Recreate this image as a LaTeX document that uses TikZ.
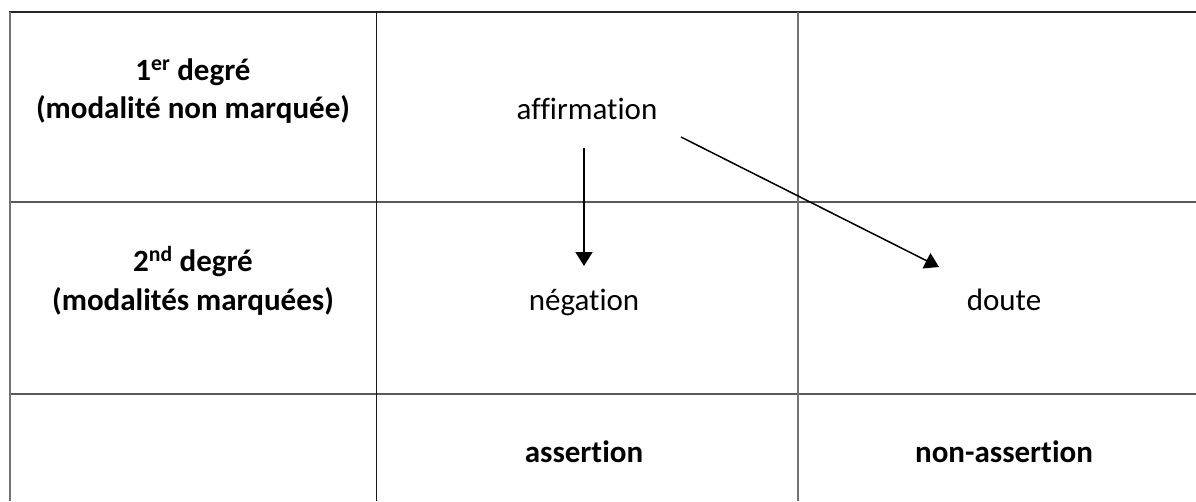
\documentclass[tikz,border=0pt]{standalone}
\usepackage{fontspec}
\setmainfont[Ligatures={NoCommon}]{Carlito}
\usetikzlibrary{arrows.meta}
\begin{document}
\begin{tikzpicture}[x=1pt,y=-1pt,
  txt/.style={font=\fontsize{31}{37}\selectfont, inner sep=0pt, anchor=base},
  hd/.style={font=\fontsize{31}{37}\selectfont\bfseries, inner sep=0pt, anchor=base},
  rule/.style={line width=1.6pt, black!85},
  hrule/.style={line width=1.4pt, black!65},
  vrule/.style={line width=1.1pt, black!55},
  vrulek/.style={line width=1.2pt, black!90},
  arr/.style={line width=1.5pt, -{Triangle[length=14pt,width=17pt]}}]
\useasboundingbox (0,0) rectangle (1196,501);
% grid
\draw[rule] (9,12) -- (1196,12);
\draw[hrule] (9,202) -- (1196,202);
\draw[hrule] (9,394) -- (1196,394);
\draw[vrule] (10,12) -- (10,501);
\draw[vrulek] (376.5,12) -- (376.5,501);
\draw[vrule] (798,12) -- (798,501);
% headers
\node[hd] (h1a) at (193,80) {1\textsuperscript{er} degré};
\node[hd] (h1b) at (193,118) {(modalité non marquée)};
\node[hd] (h2a) at (193,271) {2\textsuperscript{nd} degré};
\node[hd] (h2b) at (193,310) {(modalités marquées)};
% cells
\node[txt] (aff) at (587,119) {affirmation};
\node[txt] (neg) at (584,310) {négation};
\node[txt] (dou) at (1004,310) {doute};
\node[hd] (ass) at (584,462) {assertion};
\node[hd] (nass) at (1004,462) {non-assertion};
% arrows
\coordinate (a1s) at (584,148);
\coordinate (a1e) at (584,266);
\coordinate (a2s) at (681,137);
\coordinate (a2e) at (939,267);
\draw[arr] (a1s) -- (a1e);
\draw[arr] (a2s) -- (a2e);
\end{tikzpicture}
\end{document}
